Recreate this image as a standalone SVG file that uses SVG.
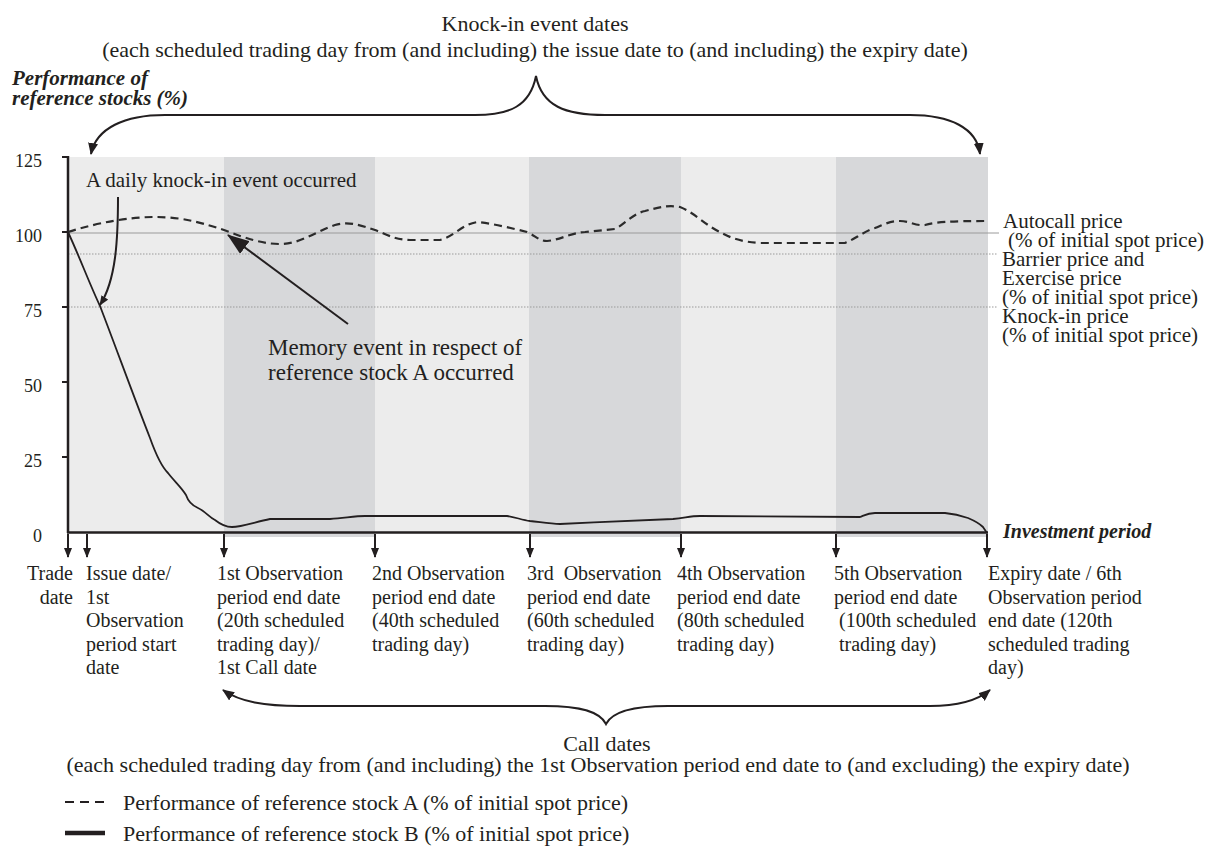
<svg xmlns="http://www.w3.org/2000/svg" width="1218" height="848" viewBox="0 0 1218 848">
<defs>
<style>
text{font-family:"Liberation Serif","Times New Roman",serif;fill:#231f20}
.t22{font-size:22px}
.t21{font-size:21px}
.t20{font-size:20px}
.t18{font-size:18px}
.bi{font-weight:bold;font-style:italic}
.light{fill:#ececec}
.dark{fill:#d7d8da}
.ax{stroke:#231f20;stroke-width:2.5;fill:none}
.tick{stroke:#231f20;stroke-width:2}
.conn{stroke:#231f20;fill:none;stroke-width:2}
.grid{stroke:#9a9a9a;stroke-width:1;fill:none}
.dot{stroke:#9a9a9a;stroke-width:1.2;stroke-dasharray:1.5 1.5;fill:none}
.stockA{stroke:#2b2b2b;stroke-width:2.2;stroke-dasharray:8 5;fill:none}
.stockB{stroke:#231f20;stroke-width:1.8;fill:none}
</style>
<marker id="ah" markerUnits="userSpaceOnUse" markerWidth="12" markerHeight="10" refX="11" refY="5" orient="auto-start-reverse" viewBox="0 0 12 10">
<path d="M0,0 L12,5 L0,10 z" fill="#231f20"/>
</marker>
<marker id="ahs" markerUnits="userSpaceOnUse" markerWidth="10" markerHeight="8" refX="9" refY="4" orient="auto" viewBox="0 0 10 8">
<path d="M0,0 L10,4 L0,8 z" fill="#231f20"/>
</marker>
<marker id="ahb" markerUnits="userSpaceOnUse" markerWidth="22" markerHeight="16" refX="21" refY="8" orient="auto" viewBox="0 0 22 16">
<path d="M0,0 L22,8 L0,16 z" fill="#231f20"/>
</marker>
</defs>

<g id="chart-bands">
<rect class="light" x="68" y="157" width="156" height="376"/>
<rect class="dark" x="224" y="157" width="151" height="380"/>
<rect class="light" x="375" y="157" width="154" height="376"/>
<rect class="dark" x="529" y="157" width="152" height="380"/>
<rect class="light" x="681" y="157" width="155" height="376"/>
<rect class="dark" x="836" y="157" width="152" height="380"/>
</g>

<g id="reference-lines">
<line class="grid" x1="68" y1="233" x2="999" y2="233"/>
<line class="dot" x1="68" y1="254" x2="998" y2="254"/>
<line class="dot" x1="68" y1="307" x2="998" y2="307"/>
</g>

<g id="axes">
<line class="ax" x1="68" y1="156" x2="68" y2="533"/>
<line class="ax" x1="67" y1="532.5" x2="988" y2="532.5"/>
<line class="tick" x1="62" y1="157" x2="68" y2="157"/>
<line class="tick" x1="62" y1="232" x2="68" y2="232"/>
<line class="tick" x1="62" y1="307" x2="68" y2="307"/>
<line class="tick" x1="62" y1="382" x2="68" y2="382"/>
<line class="tick" x1="62" y1="457" x2="68" y2="457"/>
<g class="t18" text-anchor="end">
<text x="42" y="167">125</text>
<text x="42" y="242">100</text>
<text x="42" y="317">75</text>
<text x="42" y="392">50</text>
<text x="42" y="467">25</text>
<text x="42" y="542">0</text>
</g>
<text id="y-title" class="t21 bi"><tspan x="12" y="85">Performance of</tspan><tspan x="12" y="105">reference stocks (%)</tspan></text>
<text id="x-title" class="t20 bi" x="1003" y="538">Investment period</text>
</g>

<g id="stock-lines">
<path id="stock-a" class="stockA" d="M68,232 C100,222 130,217 155,217 C185,217 205,224 224,230 C245,238 262,244 280,244 C300,244 315,232 335,225 C348,221 360,225 375,230 C386,234 395,240 410,240 L440,240 C455,236 462,224 478,222 C495,224 515,229 527,232 C536,236 539,241 547,241 C560,240 570,233 585,232 L615,229 C625,224 632,214 645,211 C660,207 668,205 680,207 C695,213 705,225 720,232 C730,238 742,242 760,243 L845,243 C855,239 863,232 875,228 C885,224 890,221 900,221 C910,221 915,226 925,225 C935,222 950,221 988,221"/>
<path id="stock-b" class="stockB" d="M68,232 C80,258 90,285 100,306 C115,345 135,400 150,438 C155,452 160,465 168,473 C175,482 182,488 186,495 C188,501 191,505 198,508 C205,511 209,517 215,520 C220,524 225,527 232,527 C242,527 255,522 270,519 L330,519 C345,518 355,516 365,516 L507,516 C515,517 522,520 530,521 C540,522 550,524 560,524 C600,522 650,520 673,519 C685,518 690,516 700,516 L860,517 C865,515 868,513 875,513 L945,513 C955,514 962,516 968,518 C975,521 980,524 983,527 L987,533"/>
</g>

<g id="connectors">
<path id="knockin-brace" class="conn" d="M91,154 C96,128 125,115 165,115 L475,115 C510,115 530,106 536,76 C542,106 565,115 605,115 L910,115 C950,115 977,128 980,154" marker-start="url(#ah)" marker-end="url(#ah)"/>
<path id="call-brace" class="conn" d="M223,690 C240,702 265,706 300,706 L545,706 C582,706 600,712 606,724 C612,712 632,706 668,706 L930,706 C960,706 978,700 990,690" marker-start="url(#ah)" marker-end="url(#ah)"/>
<path id="knockin-arrow" class="conn" d="M118,197 C118,240 116,280 100,305" marker-end="url(#ahs)"/>
<line id="memory-arrow" class="conn" x1="348" y1="324" x2="228" y2="235" marker-end="url(#ahb)"/>
<g id="date-arrows">
<line class="conn" x1="68" y1="534" x2="68" y2="557" marker-end="url(#ahs)"/>
<line class="conn" x1="87" y1="534" x2="87" y2="557" marker-end="url(#ahs)"/>
<line class="conn" x1="224" y1="534" x2="224" y2="557" marker-end="url(#ahs)"/>
<line class="conn" x1="375" y1="534" x2="375" y2="557" marker-end="url(#ahs)"/>
<line class="conn" x1="530" y1="534" x2="530" y2="557" marker-end="url(#ahs)"/>
<line class="conn" x1="681" y1="534" x2="681" y2="557" marker-end="url(#ahs)"/>
<line class="conn" x1="836" y1="534" x2="836" y2="557" marker-end="url(#ahs)"/>
<line class="conn" x1="987" y1="534" x2="987" y2="557" marker-end="url(#ahs)"/>
</g>
</g>

<g id="knockin-title" class="t22" text-anchor="middle">
<text x="535" y="31">Knock-in event dates</text>
<text x="535" y="57">(each scheduled trading day from (and including) the issue date to (and including) the expiry date)</text>
</g>

<g id="daily-knockin-label"><text class="t21" x="86" y="187">A daily knock-in event occurred</text></g>

<g id="memory-label" style="font-size:23px">
<text x="268" y="355" style="font-size:23px">Memory event in respect of</text>
<text x="268" y="380" style="font-size:23px">reference stock A occurred</text>
</g>

<g id="level-labels" class="t21">
<text x="1003" y="228">Autocall price</text>
<text x="1008" y="247">(% of initial spot price)</text>
<text x="1002" y="266">Barrier price and</text>
<text x="1002" y="285">Exercise price</text>
<text x="1002" y="304">(% of initial spot price)</text>
<text x="1002" y="323">Knock-in price</text>
<text x="1002" y="342">(% of initial spot price)</text>
</g>

<g id="date-trade" class="t20" text-anchor="end">
<text x="73" y="580">Trade</text>
<text x="73" y="604">date</text>
</g>
<g id="date-issue" class="t20">
<text x="86" y="580">Issue date/</text>
<text x="86" y="604">1st</text>
<text x="86" y="627">Observation</text>
<text x="86" y="651">period start</text>
<text x="86" y="674">date</text>
</g>
<g id="date-obs1" class="t20">
<text x="217" y="580">1st Observation</text>
<text x="217" y="604">period end date</text>
<text x="217" y="627">(20th scheduled</text>
<text x="217" y="651">trading day)/</text>
<text x="217" y="674">1st Call date</text>
</g>
<g id="date-obs2" class="t20">
<text x="372" y="580">2nd Observation</text>
<text x="372" y="604">period end date</text>
<text x="372" y="627">(40th scheduled</text>
<text x="372" y="651">trading day)</text>
</g>
<g id="date-obs3" class="t20">
<text x="527" y="580" xml:space="preserve">3rd  Observation</text>
<text x="527" y="604">period end date</text>
<text x="527" y="627">(60th scheduled</text>
<text x="527" y="651">trading day)</text>
</g>
<g id="date-obs4" class="t20">
<text x="677" y="580">4th Observation</text>
<text x="677" y="604">period end date</text>
<text x="677" y="627">(80th scheduled</text>
<text x="677" y="651">trading day)</text>
</g>
<g id="date-obs5" class="t20">
<text x="834" y="580">5th Observation</text>
<text x="834" y="604">period end date</text>
<text x="839" y="627">(100th scheduled</text>
<text x="839" y="651">trading day)</text>
</g>
<g id="date-expiry" class="t20">
<text x="988" y="580">Expiry date / 6th</text>
<text x="988" y="604">Observation period</text>
<text x="988" y="627">end date (120th</text>
<text x="988" y="651">scheduled trading</text>
<text x="988" y="674">day)</text>
</g>

<g id="call-title" class="t22" text-anchor="middle">
<text x="607" y="751">Call dates</text>
<text x="598" y="772">(each scheduled trading day from (and including) the 1st Observation period end date to (and excluding) the expiry date)</text>
</g>

<g id="legend">
<line x1="65" y1="802" x2="105" y2="802" stroke="#231f20" stroke-width="2" stroke-dasharray="9 6"/>
<text class="t22" x="123" y="810">Performance of reference stock A (% of initial spot price)</text>
<line x1="65" y1="833" x2="105" y2="833" stroke="#231f20" stroke-width="4.5"/>
<text class="t22" x="123" y="841">Performance of reference stock B (% of initial spot price)</text>
</g>
</svg>
